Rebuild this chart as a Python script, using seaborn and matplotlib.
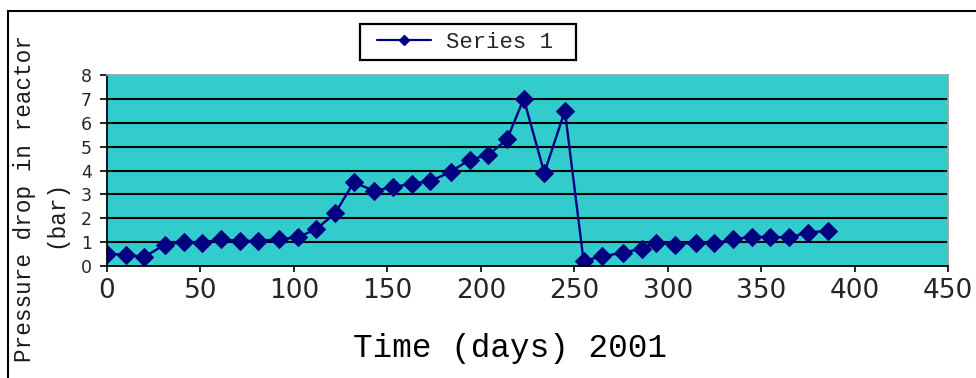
import matplotlib
matplotlib.use("Agg")
import matplotlib.pyplot as plt
import seaborn as sns
import pandas as pd
from matplotlib.lines import Line2D
from matplotlib.patches import Rectangle

days = [0, 10, 20, 31, 41, 51, 61, 71, 81, 92, 102, 112, 122, 132, 143, 153,
        163, 173, 184, 194, 204, 214, 223, 234, 245, 255, 265, 276, 286, 294,
        304, 315, 325, 335, 345, 355, 365, 375, 386]
pressure = [0.5, 0.48, 0.38, 0.9, 1.0, 0.98, 1.12, 1.05, 1.05, 1.12, 1.2, 1.55,
            2.2, 3.5, 3.15, 3.3, 3.45, 3.55, 3.95, 4.45, 4.65, 5.3, 7.0, 3.9,
            6.5, 0.22, 0.4, 0.56, 0.72, 0.98, 0.9, 0.98, 0.95, 1.12, 1.22,
            1.22, 1.2, 1.4, 1.48]
x_ticks = [0, 50, 100, 150, 200, 250, 300, 350, 400, 450]
y_ticks = [0, 1, 2, 3, 4, 5, 6, 7, 8]
series_name = "Series 1"

df = pd.DataFrame({"day": days, "pressure": pressure})

sns.set_style("white")
W, H = 976, 378
fig = plt.figure(figsize=(W / 100, H / 100), dpi=100)
ax = fig.add_axes([107 / W, 1 - 266 / H, (948 - 107) / W, (266 - 75) / H])
ax.set_facecolor("#33CCCC")

navy = "#000080"
sns.lineplot(data=df, x="day", y="pressure", ax=ax, color=navy, marker="D",
             markersize=9.5, markeredgecolor=navy, linewidth=1.7, legend=False)

ax.set_xlim(0, 450)
ax.set_ylim(0, 8)
ax.set_xticks(x_ticks)
ax.set_yticks(y_ticks)
ax.set_xticklabels([str(t) for t in x_ticks], fontsize=19, family="DejaVu Sans")
ax.set_yticklabels([str(t) for t in y_ticks], fontsize=12.5, family="DejaVu Sans")
ax.tick_params(axis="x", direction="out", length=4, width=1.2, color="black", pad=5, bottom=True)
ax.tick_params(axis="y", direction="out", length=5, width=1.2, color="black", pad=6, left=True)

for yv in range(1, 8):
    ax.axhline(yv, color="black", linewidth=1.5, zorder=1)

for side in ["left", "bottom"]:
    ax.spines[side].set_color("black")
    ax.spines[side].set_linewidth(1.3)
for side in ["top", "right"]:
    ax.spines[side].set_color("#A0A0A0")
    ax.spines[side].set_linewidth(1.3)

ax.set_xlabel("")
ax.set_ylabel("")

mono = "Liberation Mono"
fig.text(510 / W, 1 - 348 / H, "Time (days) 2001", family=mono, fontsize=23.5,
         ha="center", va="center", color="black")
fig.text(25 / W, 1 - 199 / H, "Pressure drop in reactor", family=mono, fontsize=16.3,
         rotation=90, ha="center", va="center", color="#1a1a1a")
fig.text(56 / W, 1 - 214 / H, "(bar)", family=mono, fontsize=16.3,
         rotation=90, ha="center", va="center", color="#1a1a1a")

# legend: content without frame, frame drawn as a separate box
handle = Line2D([], [], color=navy, marker="D", markersize=5, linewidth=1.6)
leg = fig.legend([handle], [series_name], loc="center left",
                 bbox_to_anchor=(377 / W, 1 - 42 / H), frameon=False,
                 prop={"family": mono, "size": 16}, handlelength=2.45,
                 borderpad=0, handletextpad=0.65, borderaxespad=0)
legbox = Rectangle((360 / W, 1 - 60 / H), (576 - 360) / W, 36 / H,
                   transform=fig.transFigure, fill=False, edgecolor="black",
                   linewidth=1.6)
fig.patches.append(legbox)

border = Rectangle((8 / W, -0.05), 1.1, 1 - 11 / H + 0.05, transform=fig.transFigure,
                   fill=False, edgecolor="black", linewidth=1.5, clip_on=False)
fig.patches.append(border)

fig.savefig("out.png", dpi=100)
